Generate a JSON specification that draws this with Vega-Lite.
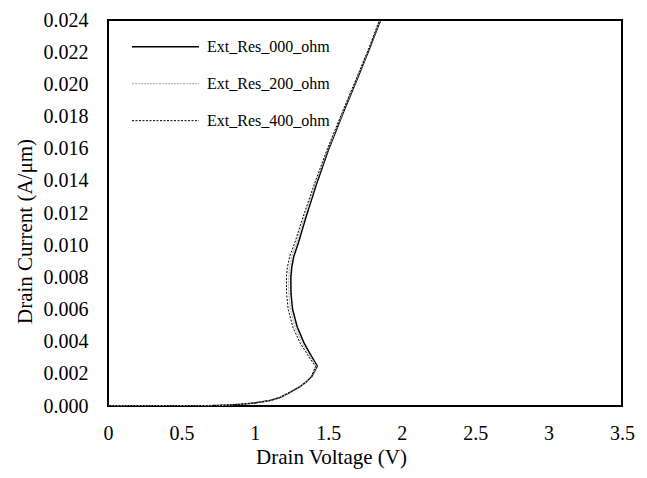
{
  "$schema": "https://vega.github.io/schema/vega-lite/v6.json",
  "width": 514,
  "height": 386,
  "autosize": {"type": "none"},
  "padding": {"left": 108, "top": 20, "right": 25, "bottom": 72},
  "background": "white",
  "config": {
    "view": {"stroke": "black", "strokeWidth": 2},
    "font": "Liberation Serif",
    "axis": {
      "labelFont": "Liberation Serif",
      "titleFont": "Liberation Serif",
      "labelColor": "black",
      "titleColor": "black",
      "titleFontWeight": "normal",
      "grid": false,
      "ticks": false,
      "tickSize": 0,
      "domain": false,
      "labelFontSize": 20,
      "titleFontSize": 21
    },
    "legend": {
      "labelFont": "Liberation Serif",
      "labelFontSize": 16,
      "labelColor": "black",
      "rowPadding": 0,
      "clipHeight": 36.7
    }
  },
  "data": {
    "values": [
      {"series": "Ext_Res_000_ohm", "k": 0, "v": 0.0, "i": 0},
      {"series": "Ext_Res_000_ohm", "k": 1, "v": 0.3, "i": 0.0000005},
      {"series": "Ext_Res_000_ohm", "k": 2, "v": 0.5, "i": 0.000003},
      {"series": "Ext_Res_000_ohm", "k": 3, "v": 0.6, "i": 0.000008},
      {"series": "Ext_Res_000_ohm", "k": 4, "v": 0.7, "i": 0.00002},
      {"series": "Ext_Res_000_ohm", "k": 5, "v": 0.8, "i": 0.00005},
      {"series": "Ext_Res_000_ohm", "k": 6, "v": 0.9, "i": 0.0001},
      {"series": "Ext_Res_000_ohm", "k": 7, "v": 1.0, "i": 0.00019},
      {"series": "Ext_Res_000_ohm", "k": 8, "v": 1.1, "i": 0.00034},
      {"series": "Ext_Res_000_ohm", "k": 9, "v": 1.17, "i": 0.00052},
      {"series": "Ext_Res_000_ohm", "k": 10, "v": 1.227, "i": 0.00079},
      {"series": "Ext_Res_000_ohm", "k": 11, "v": 1.307, "i": 0.0012},
      {"series": "Ext_Res_000_ohm", "k": 12, "v": 1.35, "i": 0.0015},
      {"series": "Ext_Res_000_ohm", "k": 13, "v": 1.387, "i": 0.00182},
      {"series": "Ext_Res_000_ohm", "k": 14, "v": 1.425, "i": 0.00249},
      {"series": "Ext_Res_000_ohm", "k": 15, "v": 1.387, "i": 0.00307},
      {"series": "Ext_Res_000_ohm", "k": 16, "v": 1.336, "i": 0.0039},
      {"series": "Ext_Res_000_ohm", "k": 17, "v": 1.289, "i": 0.0049},
      {"series": "Ext_Res_000_ohm", "k": 18, "v": 1.257, "i": 0.006},
      {"series": "Ext_Res_000_ohm", "k": 19, "v": 1.246, "i": 0.007},
      {"series": "Ext_Res_000_ohm", "k": 20, "v": 1.245, "i": 0.008},
      {"series": "Ext_Res_000_ohm", "k": 21, "v": 1.251, "i": 0.0086},
      {"series": "Ext_Res_000_ohm", "k": 22, "v": 1.265, "i": 0.0093},
      {"series": "Ext_Res_000_ohm", "k": 23, "v": 1.295, "i": 0.0101},
      {"series": "Ext_Res_000_ohm", "k": 24, "v": 1.35, "i": 0.0118},
      {"series": "Ext_Res_000_ohm", "k": 25, "v": 1.42, "i": 0.0138},
      {"series": "Ext_Res_000_ohm", "k": 26, "v": 1.5, "i": 0.0159},
      {"series": "Ext_Res_000_ohm", "k": 27, "v": 1.6, "i": 0.0182},
      {"series": "Ext_Res_000_ohm", "k": 28, "v": 1.7, "i": 0.0204},
      {"series": "Ext_Res_000_ohm", "k": 29, "v": 1.78, "i": 0.0222},
      {"series": "Ext_Res_000_ohm", "k": 30, "v": 1.856, "i": 0.024},

      {"series": "Ext_Res_200_ohm", "k": 0, "v": 0.0, "i": 0},
      {"series": "Ext_Res_200_ohm", "k": 1, "v": 0.3, "i": 0.0000005},
      {"series": "Ext_Res_200_ohm", "k": 2, "v": 0.5, "i": 0.000003},
      {"series": "Ext_Res_200_ohm", "k": 3, "v": 0.6, "i": 0.000008},
      {"series": "Ext_Res_200_ohm", "k": 4, "v": 0.7, "i": 0.00002},
      {"series": "Ext_Res_200_ohm", "k": 5, "v": 0.8, "i": 0.00005},
      {"series": "Ext_Res_200_ohm", "k": 6, "v": 0.9, "i": 0.0001},
      {"series": "Ext_Res_200_ohm", "k": 7, "v": 1.0, "i": 0.00019},
      {"series": "Ext_Res_200_ohm", "k": 8, "v": 1.1, "i": 0.00034},
      {"series": "Ext_Res_200_ohm", "k": 9, "v": 1.17, "i": 0.00052},
      {"series": "Ext_Res_200_ohm", "k": 10, "v": 1.227, "i": 0.00079},
      {"series": "Ext_Res_200_ohm", "k": 11, "v": 1.307, "i": 0.0012},
      {"series": "Ext_Res_200_ohm", "k": 12, "v": 1.35, "i": 0.0015},
      {"series": "Ext_Res_200_ohm", "k": 13, "v": 1.385, "i": 0.00182},
      {"series": "Ext_Res_200_ohm", "k": 14, "v": 1.419, "i": 0.00247},
      {"series": "Ext_Res_200_ohm", "k": 15, "v": 1.377, "i": 0.00307},
      {"series": "Ext_Res_200_ohm", "k": 16, "v": 1.323, "i": 0.0039},
      {"series": "Ext_Res_200_ohm", "k": 17, "v": 1.274, "i": 0.0049},
      {"series": "Ext_Res_200_ohm", "k": 18, "v": 1.242, "i": 0.006},
      {"series": "Ext_Res_200_ohm", "k": 19, "v": 1.231, "i": 0.007},
      {"series": "Ext_Res_200_ohm", "k": 20, "v": 1.23, "i": 0.008},
      {"series": "Ext_Res_200_ohm", "k": 21, "v": 1.236, "i": 0.0086},
      {"series": "Ext_Res_200_ohm", "k": 22, "v": 1.251, "i": 0.0093},
      {"series": "Ext_Res_200_ohm", "k": 23, "v": 1.282, "i": 0.0101},
      {"series": "Ext_Res_200_ohm", "k": 24, "v": 1.34, "i": 0.0118},
      {"series": "Ext_Res_200_ohm", "k": 25, "v": 1.412, "i": 0.0138},
      {"series": "Ext_Res_200_ohm", "k": 26, "v": 1.495, "i": 0.0159},
      {"series": "Ext_Res_200_ohm", "k": 27, "v": 1.596, "i": 0.0182},
      {"series": "Ext_Res_200_ohm", "k": 28, "v": 1.696, "i": 0.0204},
      {"series": "Ext_Res_200_ohm", "k": 29, "v": 1.777, "i": 0.0222},
      {"series": "Ext_Res_200_ohm", "k": 30, "v": 1.852, "i": 0.024},

      {"series": "Ext_Res_400_ohm", "k": 0, "v": 0.0, "i": 0},
      {"series": "Ext_Res_400_ohm", "k": 1, "v": 0.3, "i": 0.0000005},
      {"series": "Ext_Res_400_ohm", "k": 2, "v": 0.5, "i": 0.000003},
      {"series": "Ext_Res_400_ohm", "k": 3, "v": 0.6, "i": 0.000008},
      {"series": "Ext_Res_400_ohm", "k": 4, "v": 0.7, "i": 0.00002},
      {"series": "Ext_Res_400_ohm", "k": 5, "v": 0.8, "i": 0.00005},
      {"series": "Ext_Res_400_ohm", "k": 6, "v": 0.9, "i": 0.0001},
      {"series": "Ext_Res_400_ohm", "k": 7, "v": 1.0, "i": 0.00019},
      {"series": "Ext_Res_400_ohm", "k": 8, "v": 1.1, "i": 0.00034},
      {"series": "Ext_Res_400_ohm", "k": 9, "v": 1.17, "i": 0.00052},
      {"series": "Ext_Res_400_ohm", "k": 10, "v": 1.227, "i": 0.00079},
      {"series": "Ext_Res_400_ohm", "k": 11, "v": 1.307, "i": 0.0012},
      {"series": "Ext_Res_400_ohm", "k": 12, "v": 1.35, "i": 0.0015},
      {"series": "Ext_Res_400_ohm", "k": 13, "v": 1.384, "i": 0.00182},
      {"series": "Ext_Res_400_ohm", "k": 14, "v": 1.413, "i": 0.00245},
      {"series": "Ext_Res_400_ohm", "k": 15, "v": 1.367, "i": 0.00307},
      {"series": "Ext_Res_400_ohm", "k": 16, "v": 1.309, "i": 0.0039},
      {"series": "Ext_Res_400_ohm", "k": 17, "v": 1.259, "i": 0.0049},
      {"series": "Ext_Res_400_ohm", "k": 18, "v": 1.227, "i": 0.006},
      {"series": "Ext_Res_400_ohm", "k": 19, "v": 1.216, "i": 0.007},
      {"series": "Ext_Res_400_ohm", "k": 20, "v": 1.215, "i": 0.008},
      {"series": "Ext_Res_400_ohm", "k": 21, "v": 1.221, "i": 0.0086},
      {"series": "Ext_Res_400_ohm", "k": 22, "v": 1.237, "i": 0.0093},
      {"series": "Ext_Res_400_ohm", "k": 23, "v": 1.27, "i": 0.0101},
      {"series": "Ext_Res_400_ohm", "k": 24, "v": 1.33, "i": 0.0118},
      {"series": "Ext_Res_400_ohm", "k": 25, "v": 1.405, "i": 0.0138},
      {"series": "Ext_Res_400_ohm", "k": 26, "v": 1.49, "i": 0.0159},
      {"series": "Ext_Res_400_ohm", "k": 27, "v": 1.592, "i": 0.0182},
      {"series": "Ext_Res_400_ohm", "k": 28, "v": 1.693, "i": 0.0204},
      {"series": "Ext_Res_400_ohm", "k": 29, "v": 1.774, "i": 0.0222},
      {"series": "Ext_Res_400_ohm", "k": 30, "v": 1.849, "i": 0.024}
    ]
  },
  "mark": {"type": "line", "clip": true},
  "encoding": {
    "x": {
      "field": "v",
      "type": "quantitative",
      "scale": {"domain": [0, 3.5], "nice": false, "zero": false},
      "axis": {
        "values": [0, 0.5, 1, 1.5, 2, 2.5, 3, 3.5],
        "format": "~g",
        "title": "Drain Voltage (V)",
        "labelPadding": 17,
        "labelFlush": false,
        "titleX": 223,
        "titleY": 57,
        "titleBaseline": "alphabetic",
        "titleAlign": "center"
      }
    },
    "y": {
      "field": "i",
      "type": "quantitative",
      "scale": {"domain": [0, 0.024], "nice": false, "zero": false},
      "axis": {
        "values": [0, 0.002, 0.004, 0.006, 0.008, 0.01, 0.012, 0.014, 0.016, 0.018, 0.02, 0.022, 0.024],
        "format": ".3f",
        "title": "Drain Current (A/μm)",
        "labelPadding": 20,
        "labelFlush": false,
        "titleX": -77,
        "titleY": 211,
        "titleAngle": 270,
        "titleBaseline": "alphabetic",
        "titleAlign": "center"
      }
    },
    "order": {"field": "k", "type": "quantitative"},
    "color": {
      "field": "series",
      "type": "nominal",
      "scale": {
        "domain": ["Ext_Res_000_ohm", "Ext_Res_200_ohm", "Ext_Res_400_ohm"],
        "range": ["#000000", "#b4b4b4", "#000000"]
      },
      "legend": {
        "title": null,
        "orient": "none",
        "legendX": 23,
        "legendY": 8.3,
        "padding": 0,
        "symbolType": "stroke",
        "symbolSize": 4489,
        "labelOffset": 7,
        "rowPadding": 0,
        "clipHeight": 36.7
      }
    },
    "strokeDash": {
      "field": "series",
      "type": "nominal",
      "scale": {
        "domain": ["Ext_Res_000_ohm", "Ext_Res_200_ohm", "Ext_Res_400_ohm"],
        "range": [[1, 0], [2, 1], [2, 1.5]]
      },
      "legend": {
        "title": null,
        "orient": "none",
        "legendX": 23,
        "legendY": 8.3,
        "padding": 0,
        "symbolType": "stroke",
        "symbolSize": 4489,
        "labelOffset": 7,
        "rowPadding": 0,
        "clipHeight": 36.7
      }
    },
    "strokeWidth": {
      "field": "series",
      "type": "nominal",
      "scale": {
        "domain": ["Ext_Res_000_ohm", "Ext_Res_200_ohm", "Ext_Res_400_ohm"],
        "range": [1.5, 1, 1.1]
      },
      "legend": {
        "title": null,
        "orient": "none",
        "legendX": 23,
        "legendY": 8.3,
        "padding": 0,
        "symbolType": "stroke",
        "symbolSize": 4489,
        "labelOffset": 7,
        "rowPadding": 0,
        "clipHeight": 36.7
      }
    }
  }
}
